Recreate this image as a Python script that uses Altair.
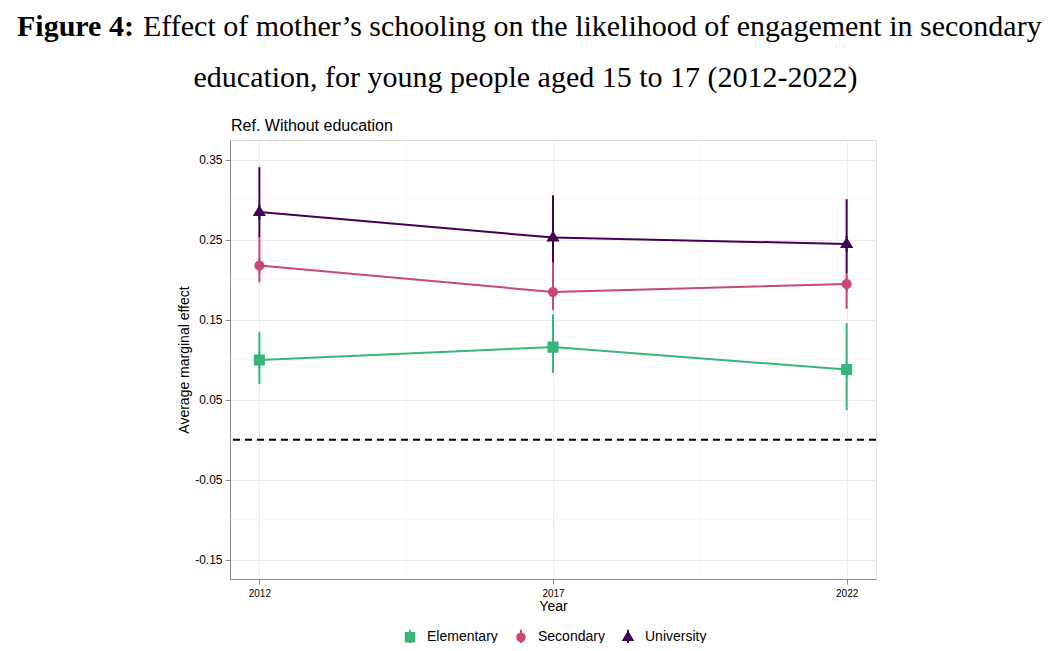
import altair as alt
import pandas as pd

years = [2012, 2017, 2022]
levels = ["Elementary", "Secondary", "University"]

elementary_est = [0.100, 0.116, 0.088]
elementary_low = [0.070, 0.084, 0.037]
elementary_high = [0.135, 0.157, 0.146]

secondary_est = [0.218, 0.185, 0.195]
secondary_low = [0.197, 0.162, 0.164]
secondary_high = [0.255, 0.223, 0.210]

university_est = [0.285, 0.253, 0.245]
university_low = [0.254, 0.222, 0.209]
university_high = [0.341, 0.306, 0.301]

y_ticks = [0.35, 0.25, 0.15, 0.05, -0.05, -0.15]
y_minor = [0.30, 0.20, 0.10, 0.00, -0.10]
x_minor = [2014.5, 2019.5]
ref_line = [0.0]

title_bold = "Figure 4:"
title_rest = "Effect of mother\u2019s schooling on the likelihood of engagement in secondary"
title_line2 = "education, for young people aged 15 to 17 (2012-2022)"
subtitle = "Ref. Without education"

colors = ["#35B779", "#CB4679", "#440154"]
# pointrange-like symbols: shape with a vertical bar through it
shapes = [
    "M-0.69,-0.69H0.69V0.69H-0.69Z M-0.125,-1H0.125V1H-0.125Z",
    "M0.63,0 A0.63,0.63 0 1,1 -0.63,0 A0.63,0.63 0 1,1 0.63,0 Z M-0.125,-1H0.125V1H-0.125Z",
    "M0,-0.88 L0.83,0.5 H-0.83 Z M-0.125,-1H0.125V1H-0.125Z",
]

rows = []
for lvl, est, lo, hi in [
    ("Elementary", elementary_est, elementary_low, elementary_high),
    ("Secondary", secondary_est, secondary_low, secondary_high),
    ("University", university_est, university_low, university_high),
]:
    for yr, e, l, h in zip(years, est, lo, hi):
        rows.append({"year": yr, "level": lvl, "est": e, "low": l, "high": h})
df = pd.DataFrame(rows)

W, H = 646, 439
x_scale = alt.Scale(domain=[2011.5, 2022.5], nice=False, zero=False)
y_scale = alt.Scale(domain=[-0.174, 0.375], nice=False, zero=False)
color = alt.Color(
    "level:N",
    scale=alt.Scale(domain=levels, range=colors),
    legend=alt.Legend(
        title=None, orient="none", direction="horizontal",
        legendX=172, legendY=489, symbolSize=230, symbolStrokeWidth=0,
        labelFontSize=14, labelColor="#000000", labelFont="Liberation Sans",
        labelOffset=9, columnPadding=15, padding=0,
    ),
)
shape = alt.Shape("level:N", scale=alt.Scale(domain=levels, range=shapes), legend=alt.Legend(title=None))

minor_h = (
    alt.Chart(pd.DataFrame({"y": y_minor}))
    .mark_rule(color="#F2F2F2", strokeWidth=0.8)
    .encode(y=alt.Y("y:Q", scale=y_scale))
)
minor_v = (
    alt.Chart(pd.DataFrame({"x": x_minor}))
    .mark_rule(color="#F2F2F2", strokeWidth=0.8)
    .encode(x=alt.X("x:Q", scale=x_scale))
)
zero = (
    alt.Chart(pd.DataFrame({"y": ref_line}))
    .mark_rule(color="#000000", strokeWidth=2, strokeDash=[7, 5])
    .encode(y=alt.Y("y:Q", scale=y_scale))
)

base = alt.Chart(df)
bars = base.mark_rule(strokeWidth=2).encode(
    x=alt.X("year:Q", scale=x_scale),
    y=alt.Y("low:Q", scale=y_scale),
    y2="high:Q",
    color=color,
)
lines = base.mark_line(strokeWidth=2).encode(
    x=alt.X(
        "year:Q", scale=x_scale, title="Year",
        axis=alt.Axis(values=years, format="d", grid=True, gridColor="#EBEBEB",
                      labelFontSize=10, titleFontSize=14, titleFontWeight=400,
                      titlePadding=1, labelPadding=4),
    ),
    y=alt.Y(
        "est:Q", scale=y_scale, title="Average marginal effect",
        axis=alt.Axis(values=y_ticks, grid=True, gridColor="#EBEBEB",
                      labelExpr="(datum.value < 0 ? '-' : '') + format(abs(datum.value), '.2f')",
                      labelFontSize=12, titleFontSize=14, titleFontWeight=400,
                      titlePadding=3, labelPadding=3),
    ),
    color=color,
)
points = base.mark_point(filled=True, opacity=1, size=256).encode(
    x=alt.X("year:Q", scale=x_scale),
    y=alt.Y("est:Q", scale=y_scale),
    color=color,
    shape=shape,
)


def label(text, x, y, size, font, weight="normal", align="left"):
    return (
        alt.Chart(pd.DataFrame({"t": [text]}))
        .mark_text(font=font, fontSize=size, fontWeight=weight, align=align,
                   baseline="alphabetic", color="#000000")
        .encode(text="t:N", x=alt.value(x), y=alt.value(y))
    )


titles = (
    label(title_bold, -213, -104, 30, "Liberation Serif", weight="bold")
    + label(title_rest, -87, -104, 30, "Liberation Serif")
    + label(title_line2, 295.5, -53, 30, "Liberation Serif", align="center")
    + label(subtitle, 1, -9, 16, "Liberation Sans")
)

chart = (
    alt.layer(minor_h, minor_v, zero, bars, lines, points, titles)
    .properties(
        width=W, height=H,
        autosize=alt.AutoSizeParams(type="none"),
        padding={"left": 222, "top": 132, "right": 177, "bottom": 64},
    )
    .configure_view(stroke="#666666", strokeWidth=1)
    .configure_axis(
        domain=False, tickColor="#555555", tickSize=3, labelColor="#4D4D4D",
        labelFont="Liberation Sans", titleFont="Liberation Sans",
        titleColor="#000000",
    )
    .configure(background="white")
)

chart.save("out.html", embed_options={"renderer": "svg", "actions": False})
